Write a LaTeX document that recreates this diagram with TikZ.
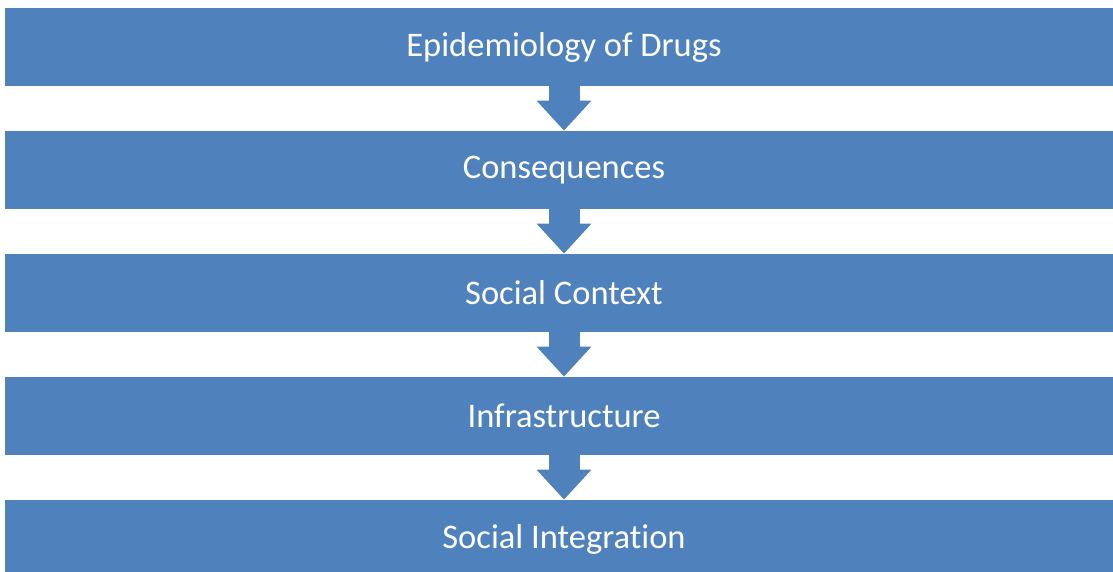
\documentclass[tikz,border=0pt]{standalone}
\usepackage{fontspec}
\setmainfont{Carlito}[Ligatures=NoCommon]
\usepackage{tikz}
\usetikzlibrary{arrows.meta}
\definecolor{barblue}{HTML}{4F81BD}
\tikzset{every picture/.style={line width=0.75pt}}
\tikzset{
  bar/.style={fill=barblue,text=white,minimum width=1118pt,minimum height=78pt,inner sep=0pt,font=\fontsize{34.5}{40}\selectfont},
  flow/.style={draw=barblue,line width=31pt,-{Triangle[width=53pt,length=30pt,fill=barblue]}}
}

\begin{document}
\begin{tikzpicture}[x=1pt,y=-1pt]
\useasboundingbox (0,0) rectangle (1113,571);
\node[bar] (epi) at (564,47) {Epidemiology of Drugs};
\node[bar] (cons) at (564,170) {Consequences};
\node[bar] (ctx) at (564,293) {Social Context};
\node[bar] (infra) at (564,416) {Infrastructure};
\node[bar] (integ) at (564,539) {Social Integration};
%
\foreach \Source/\Target in {%
	epi.south/cons.north,
	cons.south/ctx.north,
	ctx.south/infra.north,
	infra.south/integ.north%
    }
\draw[flow] (\Source) to (\Target);
\end{tikzpicture}
\end{document}
